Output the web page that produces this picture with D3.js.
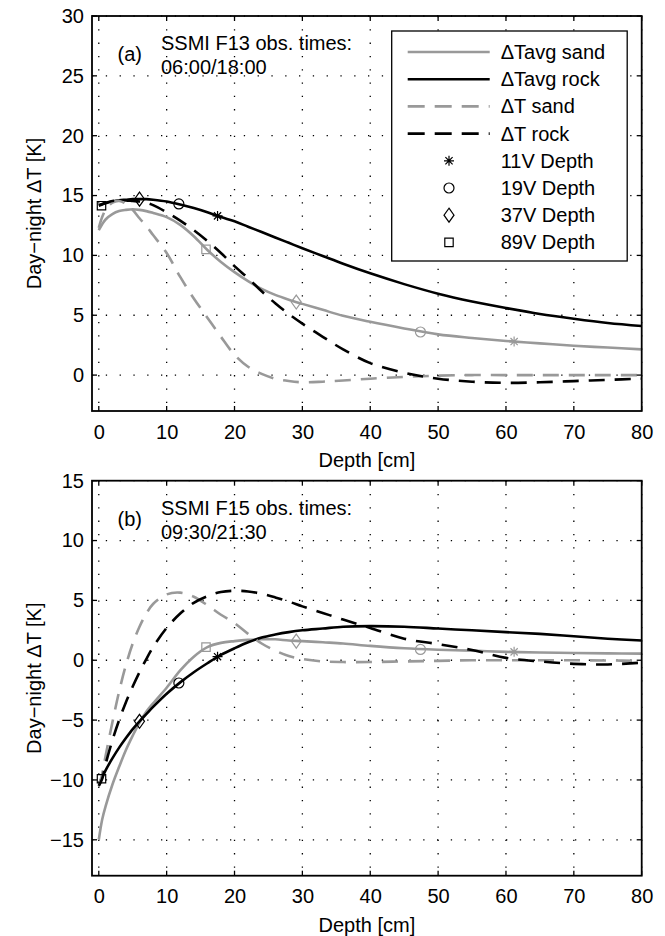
<!DOCTYPE html>
<html>
<head>
<meta charset="utf-8">
<script src="https://cdn.jsdelivr.net/npm/d3@7"></script>
<style>
body { margin: 0; background: #fff; }
text { font-family: "Liberation Sans", Arial, sans-serif; font-size: 20px; fill: #000; }
</style>
</head>
<body>
<div id="chart"></div>
<script>
// depth grid (cm) shared by all curves
var depthGrid = [0, 0.5, 1, 2, 3, 4, 5, 6, 7, 8, 10, 12, 14, 16, 18, 20, 22, 24, 26, 28, 30, 33, 36, 40, 45, 50, 55, 60, 65, 70, 75, 80];

// panel (a) F13 06:00/18:00
var sandAvgA = [12.1, 12.6, 13.0, 13.45, 13.7, 13.8, 13.85, 13.8, 13.7, 13.55, 13.2, 12.55, 11.6, 10.45, 9.45, 8.6, 7.85, 7.2, 6.7, 6.3, 5.95, 5.45, 4.95, 4.45, 3.9, 3.4, 3.1, 2.85, 2.65, 2.45, 2.3, 2.15];
var rockAvgA = [14.15, 14.25, 14.35, 14.5, 14.6, 14.65, 14.7, 14.7, 14.7, 14.65, 14.5, 14.25, 13.95, 13.6, 13.2, 12.85, 12.4, 11.95, 11.5, 11.05, 10.6, 9.95, 9.3, 8.5, 7.6, 6.8, 6.15, 5.6, 5.1, 4.7, 4.35, 4.1];
var sandTA = [12.3, 13.2, 13.8, 14.4, 14.55, 14.3, 13.8, 13.1, 12.45, 11.7, 10.2, 8.2, 6.4, 4.8, 3.2, 1.7, 0.7, 0.1, -0.3, -0.5, -0.6, -0.55, -0.45, -0.3, -0.15, -0.05, 0, 0, 0, 0, 0, 0];
var rockTA = [14.2, 14.3, 14.4, 14.55, 14.6, 14.6, 14.55, 14.5, 14.4, 14.2, 13.6, 12.9, 12.1, 11.2, 10.2, 9.1, 8.1, 7.0, 6.0, 5.1, 4.3, 3.2, 2.15, 1.0, 0.2, -0.3, -0.55, -0.65, -0.6, -0.5, -0.4, -0.3];

// panel (b) F15 09:30/21:30
var sandAvgB = [-15, -13.3, -12.2, -10.4, -8.9, -7.5, -6.3, -5.2, -4.3, -3.6, -2.3, -0.85, 0.3, 1.1, 1.45, 1.6, 1.7, 1.75, 1.75, 1.65, 1.6, 1.5, 1.4, 1.2, 1.0, 0.88, 0.8, 0.7, 0.65, 0.6, 0.57, 0.55];
var rockAvgB = [-10.3, -9.8, -9.2, -8.2, -7.3, -6.5, -5.75, -5.1, -4.5, -3.9, -2.8, -1.85, -1.0, -0.25, 0.45, 1.0, 1.5, 1.9, 2.15, 2.35, 2.5, 2.65, 2.8, 2.85, 2.8, 2.65, 2.5, 2.35, 2.2, 2.0, 1.8, 1.65];
var sandTB = [-10.5, -9.5, -8.0, -5.2, -2.6, -0.4, 1.4, 2.8, 3.9, 4.7, 5.5, 5.65, 5.3, 4.6, 3.8, 3.1, 2.2, 1.4, 0.8, 0.35, 0.1, -0.1, -0.15, -0.15, -0.1, -0.05, 0, 0, 0, 0, -0.02, -0.05];
var rockTB = [-10.5, -9.9, -8.7, -6.7, -5.0, -3.5, -2.2, -1.0, 0.1, 1.1, 2.7, 3.9, 4.8, 5.35, 5.7, 5.8, 5.75, 5.55, 5.25, 4.9, 4.5, 3.95, 3.4, 2.7, 1.8, 1.35, 0.85, 0.2, -0.1, -0.3, -0.35, -0.2];

// channel penetration depths: 11V, 19V, 37V, 89V
var channels = ["11V Depth", "19V Depth", "37V Depth", "89V Depth"];
var rockMarkDepth = [17.5, 11.8, 6.0, 0.4];
var sandMarkDepth = [61.2, 47.4, 29.1, 15.8];
var rockMarkA = [13.3, 14.3, 14.7, 14.15];
var sandMarkA = [2.8, 3.6, 6.1, 10.5];
var rockMarkB = [0.3, -1.9, -5.1, -9.9];
var sandMarkB = [0.7, 0.9, 1.6, 1.1];

var xTicks = [0, 10, 20, 30, 40, 50, 60, 70, 80];
var yTicksA = [0, 5, 10, 15, 20, 25, 30];
var yTicksB = [-15, -10, -5, 0, 5, 10, 15];
var seriesNames = ["\u0394Tavg sand", "\u0394Tavg rock", "\u0394T sand", "\u0394T rock"];

var svgWidth = 665;
var svgHeight = 936;
var margin = { left: 92, right: 23.3 };
var width = svgWidth - margin.left - margin.right;
var height = 395;
var gray = "#999999";

var svg = d3.select("#chart")
  .append("svg")
  .attr("width", svgWidth)
  .attr("height", svgHeight);

var xScale = d3.scaleLinear().domain([-1, 80]).range([0, width]);

var styles = [
  { color: gray, dash: null },
  { color: "#000", dash: null },
  { color: gray, dash: "16,10" },
  { color: "#000", dash: "16,10" }
];
var shapes = ["star", "circle", "diamond", "square"];

function drawMarker(g, shape, x, y, color) {
  var p;
  if (shape == "circle") {
    return g.append("circle").attr("cx", x).attr("cy", y).attr("r", 5)
      .attr("fill", "none").attr("stroke", color).attr("stroke-width", 1.2);
  }
  if (shape == "star") {
    var s = 5, k = 3.6;
    p = `M${x - s},${y}L${x + s},${y}M${x},${y - s}L${x},${y + s}M${x - k},${y - k}L${x + k},${y + k}M${x - k},${y + k}L${x + k},${y - k}`;
  } else if (shape == "diamond") {
    p = `M${x},${y - 7}L${x + 5},${y}L${x},${y + 7}L${x - 5},${y}Z`;
  } else {
    p = `M${x - 4.2},${y - 4.2}h8.4v8.4h-8.4Z`;
  }
  return g.append("path").attr("d", p)
    .attr("fill", "none").attr("stroke", color).attr("stroke-width", 1.2);
}

function drawPanel(top, yDomain, yTicks, series, rockMarks, sandMarks, label, line1, line2, id, withLegend) {
  var yScale = d3.scaleLinear().domain(yDomain).range([height, 0]);
  var g = svg.append("g").attr("transform", `translate(${margin.left}, ${top})`);

  g.append("clipPath").attr("id", id)
    .append("rect").attr("width", width).attr("height", height);

  // dotted grid
  g.selectAll(".gx").data(xTicks).enter().append("line")
    .attr("x1", d => xScale(d)).attr("x2", d => xScale(d))
    .attr("y1", 0).attr("y2", height)
    .attr("stroke", "#000").attr("stroke-width", 1.3).attr("stroke-dasharray", "1.3,12");
  g.selectAll(".gy").data(yTicks).enter().append("line")
    .attr("y1", d => yScale(d)).attr("y2", d => yScale(d))
    .attr("x1", 0).attr("x2", width)
    .attr("stroke", "#000").attr("stroke-width", 1.3).attr("stroke-dasharray", "1.3,12.5");

  // axes (labels only, ticks drawn inside below)
  var bottomAxis = d3.axisBottom(xScale).tickValues(xTicks).tickSize(0).tickPadding(13.5);
  var leftAxis = d3.axisLeft(yScale).tickValues(yTicks).tickSize(0).tickPadding(8);
  var bx = g.append("g").attr("transform", `translate(0, ${height})`).call(bottomAxis);
  var ly = g.append("g").call(leftAxis);
  [bx, ly].forEach(a => {
    a.select(".domain").remove();
    a.selectAll("text").style("font-size", "20px").style("font-family", "'Liberation Sans', Arial, sans-serif").attr("fill", "#000");
  });

  // curves
  var line = d3.line()
    .x((d, i) => xScale(depthGrid[i]))
    .y(d => yScale(d))
    .curve(d3.curveCatmullRom.alpha(0.5));
  var curves = g.append("g").attr("clip-path", `url(#${id})`);
  series.forEach((vals, i) => {
    curves.append("path")
      .attr("d", line(vals))
      .attr("fill", "none")
      .attr("stroke", styles[i].color)
      .attr("stroke-width", 2.6)
      .attr("stroke-dasharray", styles[i].dash);
  });

  // channel markers
  rockMarks.forEach((v, i) => drawMarker(curves, shapes[i], xScale(rockMarkDepth[i]), yScale(v), "#000"));
  sandMarks.forEach((v, i) => drawMarker(curves, shapes[i], xScale(sandMarkDepth[i]), yScale(v), gray));

  // inner ticks on all four sides
  xTicks.forEach(t => {
    g.append("line").attr("x1", xScale(t)).attr("x2", xScale(t)).attr("y1", height).attr("y2", height - 5).attr("stroke", "#000").attr("stroke-width", 1.3);
    g.append("line").attr("x1", xScale(t)).attr("x2", xScale(t)).attr("y1", 0).attr("y2", 5).attr("stroke", "#000").attr("stroke-width", 1.3);
  });
  yTicks.forEach(t => {
    g.append("line").attr("y1", yScale(t)).attr("y2", yScale(t)).attr("x1", 0).attr("x2", 5).attr("stroke", "#000").attr("stroke-width", 1.3);
    g.append("line").attr("y1", yScale(t)).attr("y2", yScale(t)).attr("x1", width).attr("x2", width - 5).attr("stroke", "#000").attr("stroke-width", 1.3);
  });

  // box
  g.append("rect").attr("width", width).attr("height", height)
    .attr("fill", "none").attr("stroke", "#000").attr("stroke-width", 1.8);

  // annotation
  g.append("text").attr("x", 25.5).attr("y", 45).text(label);
  g.append("text").attr("x", 69).attr("y", 34).text(line1);
  g.append("text").attr("x", 69).attr("y", 58).text(line2);

  // axis titles
  g.append("text")
    .attr("transform", `translate(${width / 2}, ${height + 56})`)
    .attr("text-anchor", "middle")
    .text("Depth [cm]");
  g.append("text")
    .attr("transform", `translate(-51, ${height / 2}) rotate(-90)`)
    .attr("text-anchor", "middle")
    .text("Day\u2212night \u0394T [K]");

  if (withLegend) {
    var lg = g.append("g").attr("transform", "translate(299.7, 15)");
    lg.append("rect").attr("width", 235.5).attr("height", 230)
      .attr("fill", "#fff").attr("stroke", "#000").attr("stroke-width", 1.3);
    var rowY = d => 21 + d * 27.2;
    seriesNames.forEach((name, i) => {
      lg.append("line").attr("x1", 16).attr("x2", 98).attr("y1", rowY(i)).attr("y2", rowY(i))
        .attr("stroke", styles[i].color).attr("stroke-width", 2.6)
        .attr("stroke-dasharray", styles[i].dash ? "17,10" : null);
      lg.append("text").attr("x", 109).attr("y", rowY(i) + 7).text(name);
    });
    channels.forEach((name, i) => {
      drawMarker(lg, shapes[i], 57.3, rowY(i + 4), "#000");
      lg.append("text").attr("x", 109).attr("y", rowY(i + 4) + 7).text(name);
    });
  }
}

drawPanel(16, [-3, 30], yTicksA, [sandAvgA, rockAvgA, sandTA, rockTA], rockMarkA, sandMarkA,
  "(a)", "SSMI F13 obs. times:", "06:00/18:00", "clipA", true);
drawPanel(480.7, [-18, 15], yTicksB, [sandAvgB, rockAvgB, sandTB, rockTB], rockMarkB, sandMarkB,
  "(b)", "SSMI F15 obs. times:", "09:30/21:30", "clipB", false);
</script>
</body>
</html>
